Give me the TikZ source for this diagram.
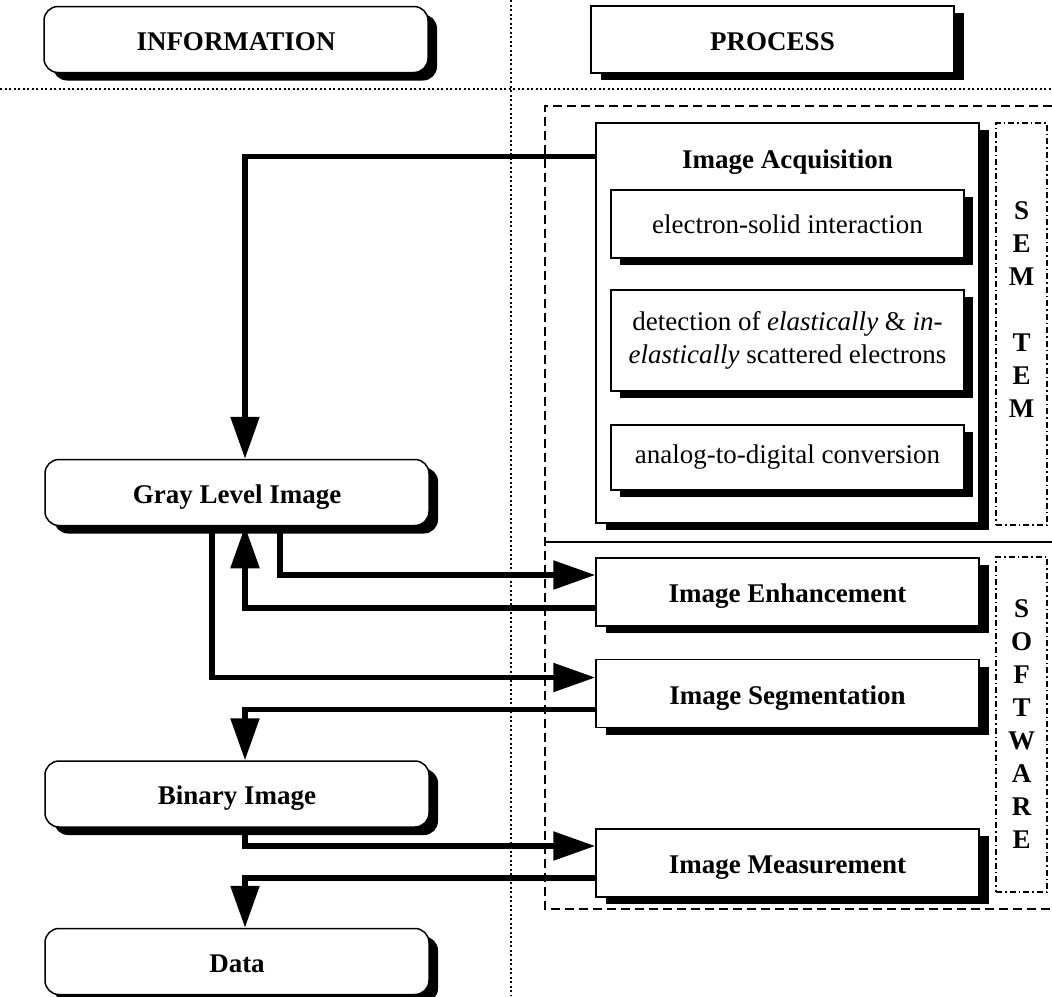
\documentclass[tikz,border=0pt]{standalone}
\usepackage{fontspec}
\setmainfont{Liberation Serif}
\usepackage{tikz}
\usetikzlibrary{arrows.meta,calc,positioning,shadows}
\newcommand{\labelsize}{\fontsize{27}{33}\selectfont}

\begin{document}
\begin{tikzpicture}[x=1pt, y=-1pt, every node/.style={font=\labelsize},
      infobox/.style={draw, line width=1.5pt, rounded corners=14pt, fill=white, font=\labelsize\bfseries,
        minimum width=384pt, minimum height=66pt, text height=22pt, text depth=1pt,
        drop shadow={shadow xshift=9pt, shadow yshift=-8pt, opacity=1, fill=black}},
      procbox/.style={draw, line width=1.5pt, fill=white, font=\labelsize\bfseries,
        minimum width=383pt, minimum height=68pt, text height=22pt, text depth=1pt,
        drop shadow={shadow xshift=10pt, shadow yshift=-7pt, opacity=1, fill=black}},
      stepbox/.style={draw, line width=1.5pt, fill=white, align=center, minimum width=353pt,
        drop shadow={shadow xshift=9pt, shadow yshift=-7pt, opacity=1, fill=black}},
      groupbox/.style={draw, line width=1.2pt, dash pattern=on 6pt off 3pt on 1.5pt off 3pt,
        minimum width=51pt, font=\labelsize\bfseries, align=center},
      sepline/.style={line width=2pt, dash pattern=on 2pt off 2.5pt},
      flow/.style={line width=5.5pt, ->},
      >={Triangle[length=42pt,width=28pt]}]
    \useasboundingbox (0,0) rectangle (1052,996);

    % columns
    \draw[sepline] (0,89) -- (1052,89);
    \draw[sepline] (511,0) -- (511,996);
    \draw[line width=1.5pt, dash pattern=on 9pt off 5pt] (1052,106) -- (545,106) -- (545,909) -- (1052,909);
    \draw[line width=1.5pt] (545,542) -- (1052,542);

    \node[infobox] (info) at (236,39.5) {INFORMATION};
    \node[procbox, minimum width=363pt, minimum height=67pt] (proc) at (772.5,39.5) {PROCESS};

    % hardware part
    \node[procbox, minimum height=400pt] (acq) at (787.5,323) {};
    \node[font=\labelsize\bfseries] (acqt) at (787.5,162) {Image Acquisition};
    \node[stepbox, minimum height=68pt] (esi) at (787.5,224) {electron-solid interaction};
    \node[stepbox, minimum height=101pt] (det) at (787.5,340.5)
      {detection of \textit{elastically} \& \textit{in-}\\\textit{elastically} scattered electrons};
    \node[stepbox, minimum height=65pt] (adc) at (787.5,457.5) {analog-to-digital conversion};
    \node[groupbox, minimum height=402pt] (semtem) at (1021.5,324) {};
    \node[font=\labelsize\bfseries, align=center] (semtemt) at (1021.5,310) {S\\E\\M\\[33pt]T\\E\\M};

    % software part
    \node[procbox] (enh) at (787.5,592) {Image Enhancement};
    \node[procbox, below=32pt of enh] (seg) {Image Segmentation};
    \node[procbox, below=100pt of seg] (meas) {Image Measurement};
    \node[groupbox, minimum height=335pt] (soft) at (1021.5,724.5) {S\\O\\F\\T\\W\\A\\R\\E};

    % information
    \node[infobox] (gray) at (237,492.5) {Gray Level Image};
    \node[infobox, below=234pt of gray] (bin) {Binary Image};
    \node[infobox, below=100pt of bin] (data) {Data};

    \draw[flow] ([yshift=-34pt]acq.north west) -| ([xshift=8pt]gray.north);
    \draw[flow] ([xshift=43pt]gray.south) |- ([yshift=17pt]enh.west);
    \draw[flow] ([yshift=-16pt]enh.west) -| ([xshift=8pt]gray.south);
    \draw[flow] ([xshift=-25pt]gray.south) |- ([yshift=16pt]seg.west);
    \draw[flow] ([yshift=-16pt]seg.west) -| ([xshift=8pt]bin.north);
    \draw[flow] ([xshift=8pt]bin.south) |- ([yshift=17pt]meas.west);
    \draw[flow] ([yshift=-15pt]meas.west) -| ([xshift=8pt]data.north);
  \end{tikzpicture}
\end{document}
